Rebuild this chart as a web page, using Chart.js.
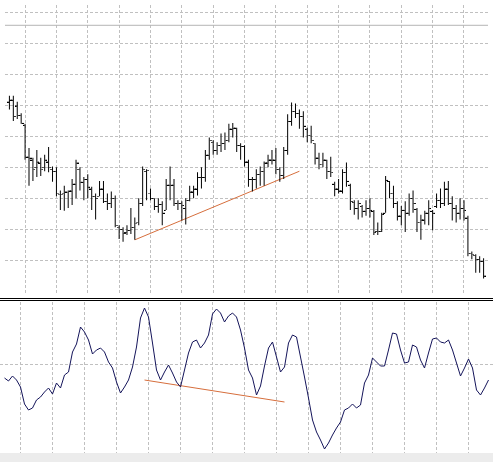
<!DOCTYPE html>
<html>
<head>
<meta charset="utf-8">
<script src="https://cdn.jsdelivr.net/npm/chart.js@4.4.1/dist/chart.umd.min.js"></script>
<style>
  html, body { margin: 0; padding: 0; background: #fff; }
  body { width: 493px; height: 462px; position: relative; overflow: hidden; }
  #pricePane { position: absolute; left: 0; top: 0; width: 493px; height: 298px; }
  .sep { position: absolute; left: 0; width: 493px; height: 1px; background: #000; }
  #oscPane { position: absolute; left: 0; top: 302px; width: 493px; height: 151px; }
  #footer { position: absolute; left: 0; top: 453px; width: 493px; height: 9px; background: #ececec; }
</style>
</head>
<body>
<div id="pricePane"><canvas id="priceChart"></canvas></div>
<div class="sep" style="top:298px"></div>
<div class="sep" style="top:300px"></div>
<div id="oscPane"><canvas id="oscChart"></canvas></div>
<div id="footer"></div>
<script>
// bar data (one entry per bar, oldest first)
const highs = [206,206,200,188,177,152,142,150,142,145,
	153,133,132,108,113,108,120,140,132,122,
	125,112,105,118,118,105,107,103,72,70,
	72,90,80,100,133,130,110,100,100,97,
	120,133,120,98,97,100,113,113,127,132,
	150,163,160,158,167,168,177,178,173,157,
	155,140,122,130,133,138,145,150,152,132,
	153,187,199,198,192,190,173,175,157,147,
	147,140,143,117,120,130,137,115,98,98,
	93,98,100,88,75,85,123,118,113,97,
	92,97,105,108,90,83,87,98,88,105,
	110,117,118,102,93,100,98,82,45,42,
	40,38];
const lows = [192,180,182,177,140,113,118,122,123,128,
	127,117,102,88,87,90,93,100,108,98,
	100,88,78,102,95,88,90,70,58,55,
	62,63,57,72,92,98,98,88,85,72,
	88,98,92,88,77,73,97,100,103,110,
	117,140,145,145,148,150,158,163,148,140,
	133,112,107,110,113,113,132,135,125,117,
	120,145,175,183,172,163,158,157,135,130,
	132,120,122,102,105,105,112,88,83,78,
	80,82,80,62,62,65,85,100,90,77,
	72,65,82,85,65,57,73,72,67,90,
	90,92,93,77,75,78,77,40,37,23,
	23,17];
const opens = [200,202,196,186,176,143,140,132,137,132,
	138,130,128,104,105,106,108,115,130,117,
	120,110,102,102,110,97,95,100,70,68,
	65,67,70,75,95,128,105,100,92,94,
	88,114,114,95,95,90,98,107,110,122,
	122,145,158,150,155,157,160,172,173,155,
	154,138,120,120,125,128,137,140,140,130,
	124,150,180,190,188,185,172,165,157,142,
	135,140,128,115,110,108,127,114,96,90,
	92,87,90,87,66,66,85,118,105,95,
	82,88,85,100,89,75,78,85,87,92,
	98,95,110,95,90,85,90,80,43,41,
	37,35];
const closes = [202,185,186,178,143,142,130,138,130,140,
	132,128,105,104,107,108,115,137,117,120,
	112,102,100,110,97,95,100,72,68,64,
	67,70,74,95,130,129,100,92,94,85,
	114,114,95,95,93,98,107,110,122,122,
	145,160,150,155,157,160,172,173,155,154,
	138,120,120,125,128,137,140,140,130,124,
	150,180,190,188,185,175,165,160,142,135,
	140,128,127,110,108,127,118,97,90,95,
	87,90,88,65,66,84,119,105,95,82,
	88,85,100,95,75,78,85,90,85,98,
	95,110,95,90,85,90,88,43,42,37,
	35,20];

// oscillator under the price pane
const oscillator = [-14,-17,-12,-16,-23,-40,-46,-44,-36,-33,
	-28,-24,-30,-19,-24,-11,-8,12,20,37,
	32,24,10,14,16,12,2,-4,-18,-29,
	-23,-16,-3,17,46,56,47,21,-6,-16,
	-8,-1,-9,-18,-23,-6,11,22,24,16,
	21,29,50,55,51,42,48,51,47,34,
	16,-6,-14,-31,-22,-2,16,22,7,-8,
	-3,21,29,27,7,-13,-34,-56,-68,-76,
	-85,-79,-71,-64,-58,-46,-44,-40,-44,-41,
	-19,-11,6,2,-2,-2,14,31,30,14,
	1,2,19,17,4,-4,11,25,26,22,
	21,24,14,1,-12,-4,5,-4,-26,-31,
	-24,-16];

// drawn trend lines (bar index / value)
const priceTrendX = [32, 74];
const priceTrendY = [57, 128];
const oscTrendX = [35, 70];
const oscTrendY = [-16, -38];
const levelLine = 279;

// grid ticks
const gridBars = [4, 12, 20, 28, 36, 44, 52, 60, 68, 76, 84, 92, 100, 108, 116];
const priceTicks = [36, 68, 100, 132, 164, 196, 228, 260, 292];
const oscTicks = [0];

const xMin = -1.125, xMax = 122.125;
const gridColor = '#c0c0c0';
const orange = 'rgb(214,110,60)';

function tickImage(side) {
	const c = document.createElement('canvas');
	c.width = 5;
	c.height = 2;
	const g = c.getContext('2d');
	g.fillStyle = '#000';
	g.fillRect(side === 'left' ? 0 : 3, 1, 2, 1);
	return c;
}

function xScale() {
	return {
		type: 'linear',
		min: xMin,
		max: xMax,
		offset: false,
		grid: { color: gridColor, lineWidth: 1, drawTicks: false, tickLength: 0, offset: false },
		border: { display: false, dash: [3, 2] },
		ticks: { display: false },
		afterBuildTicks: function(scale) {
			scale.ticks = gridBars.map(v => ({ value: v }));
		}
	};
}

function yScale(min, max, ticks) {
	return {
		type: 'linear',
		min: min,
		max: max,
		grid: { color: gridColor, lineWidth: 1, drawTicks: false, tickLength: 0 },
		border: { display: false, dash: [3, 2] },
		ticks: { display: false },
		afterBuildTicks: function(scale) {
			scale.ticks = ticks.map(v => ({ value: v }));
		}
	};
}

const common = {
	responsive: true,
	maintainAspectRatio: false,
	animation: false,
	devicePixelRatio: 1,
	layout: { padding: 0 },
	plugins: { legend: { display: false }, tooltip: { enabled: false } }
};

new Chart(document.getElementById('priceChart'), {
	type: 'bar',
	data: {
		datasets: [{
			type: 'line',
			data: [{ x: xMin, y: levelLine }, { x: xMax, y: levelLine }],
			borderColor: '#b4b4b4',
			borderWidth: 1,
			pointRadius: 0
		}, {
			type: 'bar',
			data: highs.map((h, i) => ({ x: i, y: [lows[i], h] })),
			backgroundColor: '#000',
			borderWidth: 0,
			barThickness: 1,
			inflateAmount: 0,
			grouped: false
		}, {
			type: 'scatter',
			data: opens.map((o, i) => ({ x: i, y: o })),
			pointStyle: tickImage('left'),
			pointRadius: 1
		}, {
			type: 'scatter',
			data: closes.map((c, i) => ({ x: i, y: c })),
			pointStyle: tickImage('right'),
			pointRadius: 1
		}, {
			type: 'line',
			data: priceTrendX.map((x, i) => ({ x: x, y: priceTrendY[i] })),
			borderColor: orange,
			borderWidth: 1,
			pointRadius: 0
		}]
	},
	options: Object.assign({}, common, {
		scales: { x: xScale(), y: yScale(2, 300, priceTicks) }
	})
});

new Chart(document.getElementById('oscChart'), {
	type: 'line',
	data: {
		datasets: [{
			data: oscillator.map((v, i) => ({ x: i, y: v })),
			borderColor: '#14145a',
			borderWidth: 1,
			pointRadius: 0,
			tension: 0
		}, {
			data: oscTrendX.map((x, i) => ({ x: x, y: oscTrendY[i] })),
			borderColor: orange,
			borderWidth: 1,
			pointRadius: 0
		}]
	},
	options: Object.assign({}, common, {
		scales: { x: xScale(), y: yScale(-89, 62, oscTicks) }
	})
});
</script>
</body>
</html>
